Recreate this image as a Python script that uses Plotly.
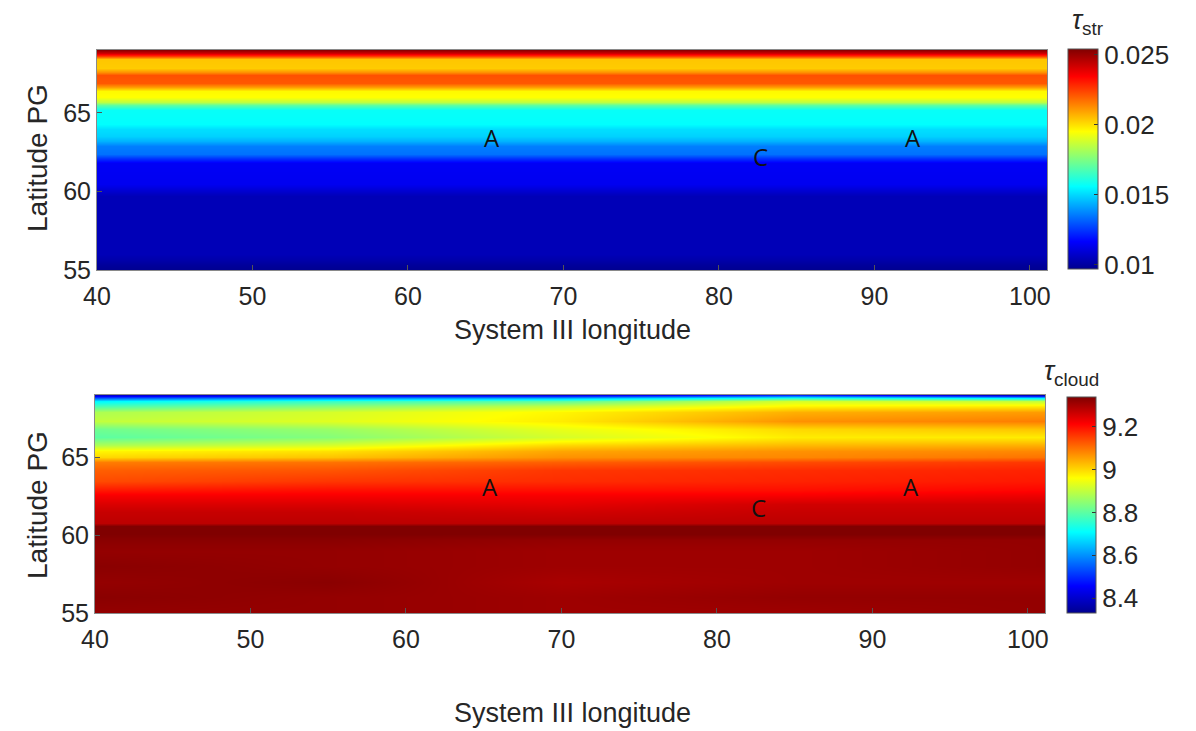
import plotly.graph_objects as go

W, H = 1196, 731

# ---------------- data ----------------
# top panel: tau_str, a function of latitude only
str_lon = [40, 101.1]
str_lat = [55.0, 55.3, 55.7, 56.0, 59.7, 60.1, 60.5, 61.8, 62.1, 62.4, 62.9, 63.2,
           63.5, 64.0, 64.3, 65.2, 65.5, 65.7, 66.0, 66.4, 66.65, 66.9, 67.4, 67.6,
           67.85, 68.4, 68.6, 68.8, 69.0]
tau_str = [0.0097, 0.0099, 0.0102, 0.0104, 0.0104, 0.0109, 0.0114, 0.0115, 0.0125,
           0.0134, 0.0136, 0.0144, 0.0149, 0.0151, 0.0156, 0.0157, 0.0170, 0.0185,
           0.0195, 0.0196, 0.0210, 0.0221, 0.0222, 0.0212, 0.0203, 0.0204, 0.0225,
           0.0242, 0.0252]

# bottom panel: tau_cloud, latitude profiles read at several longitudes
cloud_lon = [40, 55, 70, 85, 101.1]
cloud_lat = [55, 56, 57, 58, 59, 59.7, 60.1, 60.6, 60.8, 61.5, 62.0, 62.6, 62.9, 63.5,
             64.2, 64.7, 65.0, 65.4, 65.8, 66.3, 66.8, 67.3, 67.9, 68.3, 68.6, 68.8, 69.0]
cloud_lon40 = [9.32, 9.33, 9.32, 9.33, 9.32, 9.33, 9.34, 9.34, 9.28, 9.27, 9.25, 9.22,
               9.19, 9.14, 9.12, 9.09, 9.00, 8.97, 8.88, 8.80, 8.82, 8.90, 8.88, 8.78,
               8.70, 8.55, 8.40]
cloud_lon55 = [9.32, 9.32, 9.33, 9.32, 9.32, 9.33, 9.34, 9.34, 9.28, 9.27, 9.25, 9.22,
               9.20, 9.16, 9.13, 9.10, 9.02, 8.99, 8.92, 8.84, 8.86, 8.93, 8.92, 8.84,
               8.76, 8.60, 8.42]
cloud_lon70 = [9.31, 9.31, 9.30, 9.31, 9.31, 9.32, 9.34, 9.34, 9.28, 9.26, 9.24, 9.22,
               9.20, 9.17, 9.16, 9.12, 9.07, 9.05, 9.00, 8.92, 8.94, 8.98, 8.97, 8.90,
               8.80, 8.64, 8.42]
cloud_lon85 = [9.31, 9.32, 9.31, 9.31, 9.31, 9.32, 9.34, 9.34, 9.28, 9.27, 9.26, 9.22,
               9.20, 9.18, 9.17, 9.14, 9.08, 9.07, 9.03, 8.98, 9.00, 9.07, 9.04, 8.97,
               8.92, 8.75, 8.50]
cloud_lon101 = [9.32, 9.32, 9.31, 9.32, 9.32, 9.32, 9.34, 9.34, 9.28, 9.27, 9.26, 9.23,
                9.21, 9.19, 9.18, 9.16, 9.10, 9.08, 9.04, 8.98, 9.02, 9.09, 9.06, 8.98,
                8.90, 8.70, 8.38]

x_ticks = [40, 50, 60, 70, 80, 90, 100]
y_ticks = [55, 60, 65]
str_cb_ticks = [0.01, 0.015, 0.02, 0.025]
str_cb_text = ["0.01", "0.015", "0.02", "0.025"]
cloud_cb_ticks = [8.4, 8.6, 8.8, 9.0, 9.2]
cloud_cb_text = ["8.4", "8.6", "8.8", "9", "9.2"]

labels_text = ["A", "C", "A"]
labels_lon = [65.4, 82.7, 92.5]
labels_lat_top = [63.4, 62.2, 63.4]
labels_lat_bot = [63.1, 61.8, 63.1]

# ---------------- styling ----------------
jet = [[0.0, "rgb(0,0,143)"], [0.125, "rgb(0,0,255)"], [0.375, "rgb(0,255,255)"],
       [0.625, "rgb(255,255,0)"], [0.875, "rgb(255,0,0)"], [1.0, "rgb(128,0,0)"]]
FONT = "Arial, Liberation Sans, sans-serif"
TXT = "#262626"

z_str = [[v, v] for v in tau_str]
z_cloud = [list(r) for r in zip(cloud_lon40, cloud_lon55, cloud_lon70, cloud_lon85, cloud_lon101)]


def px_x(p):
    return p / W


def px_y(p):
    return 1 - p / H


fig = go.Figure()
fig.add_trace(go.Heatmap(
    x=str_lon, y=str_lat, z=z_str, zsmooth="best", colorscale=jet,
    zmin=0.0097, zmax=0.0254, xaxis="x", yaxis="y", hoverinfo="skip",
    colorbar=dict(x=px_x(1068), xanchor="left", y=px_y(159), yanchor="middle",
                  len=220 / H, lenmode="fraction", thickness=30, thicknessmode="pixels",
                  outlinewidth=1, outlinecolor="#555", xpad=0, ypad=0,
                  tickvals=str_cb_ticks, ticktext=str_cb_text, ticks="inside",
                  ticklen=4, tickcolor="#333",
                  tickfont=dict(size=26, family=FONT, color=TXT))))
fig.add_trace(go.Heatmap(
    x=cloud_lon, y=cloud_lat, z=z_cloud, zsmooth="best", colorscale=jet,
    zmin=8.33, zmax=9.34, xaxis="x2", yaxis="y2", hoverinfo="skip",
    colorbar=dict(x=px_x(1067), xanchor="left", y=px_y(505), yanchor="middle",
                  len=216 / H, lenmode="fraction", thickness=29, thicknessmode="pixels",
                  outlinewidth=1, outlinecolor="#555", xpad=0, ypad=0,
                  tickvals=cloud_cb_ticks, ticktext=cloud_cb_text, ticks="inside",
                  ticklen=4, tickcolor="#333",
                  tickfont=dict(size=26, family=FONT, color=TXT))))

axis_common = dict(showline=True, mirror=True, linecolor="#8a8a8a", linewidth=1,
                   ticks="inside", ticklen=5, tickcolor="#555", showgrid=False,
                   zeroline=False, tickfont=dict(size=25, family=FONT, color=TXT))

fig.update_layout(
    width=W, height=H, margin=dict(l=0, r=0, t=0, b=0, autoexpand=False),
    paper_bgcolor="white", plot_bgcolor="white", showlegend=False,
    xaxis=dict(domain=[px_x(97), px_x(1047)], range=[40, 101.1], tickvals=x_ticks,
               anchor="y", ticklabelstandoff=4, **axis_common),
    yaxis=dict(domain=[px_y(270), px_y(50)], range=[55, 69], tickvals=y_ticks,
               anchor="x", **axis_common),
    xaxis2=dict(domain=[px_x(95), px_x(1045)], range=[40, 101.1], tickvals=x_ticks,
                anchor="y2", ticklabelstandoff=4, **axis_common),
    yaxis2=dict(domain=[px_y(613), px_y(395)], range=[55, 69], tickvals=y_ticks,
                anchor="x2", **axis_common),
)

ann = []
# axis titles
for cy in (158, 505):
    ann.append(dict(text="Latitude PG", x=px_x(37), y=px_y(cy), xref="paper", yref="paper",
                    textangle=-90, showarrow=False, xanchor="center", yanchor="middle",
                    font=dict(size=28, family=FONT, color=TXT)))
for cy in (330, 713):
    ann.append(dict(text="System III longitude", x=px_x(572), y=px_y(cy), xref="paper",
                    yref="paper", showarrow=False, xanchor="center", yanchor="middle",
                    font=dict(size=27, family=FONT, color=TXT)))
# colorbar titles
ann.append(dict(text="<i>τ</i><sub>str</sub>", x=px_x(1087), y=px_y(22), xref="paper",
                yref="paper", showarrow=False, xanchor="center", yanchor="middle",
                font=dict(size=27, family=FONT, color=TXT)))
ann.append(dict(text="<i>τ</i><sub>cloud</sub>", x=px_x(1071), y=px_y(373), xref="paper",
                yref="paper", showarrow=False, xanchor="center", yanchor="middle",
                font=dict(size=27, family=FONT, color=TXT)))
# region labels
for t, lx, ly in zip(labels_text, labels_lon, labels_lat_top):
    ann.append(dict(text=t, x=lx, y=ly, xref="x", yref="y", showarrow=False,
                    font=dict(size=24, family="Open Sans, sans-serif", color="#111")))
for t, lx, ly in zip(labels_text, labels_lon, labels_lat_bot):
    ann.append(dict(text=t, x=lx, y=ly, xref="x2", yref="y2", showarrow=False,
                    font=dict(size=24, family="Open Sans, sans-serif", color="#111")))
fig.update_layout(annotations=ann)

fig.write_html("out.html", config={"displayModeBar": False},
               post_script="document.body.style.margin='0px';")
